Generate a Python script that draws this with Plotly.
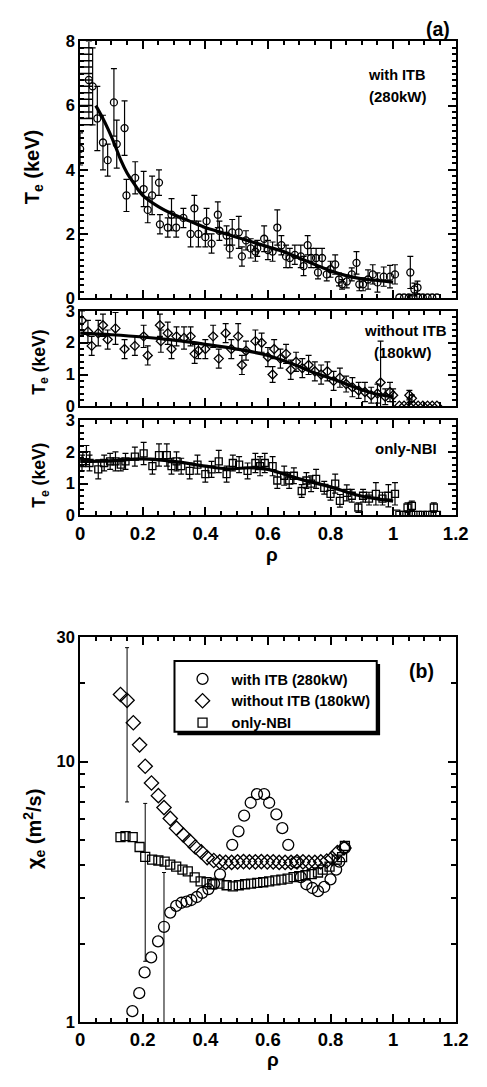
import plotly.graph_objects as go

# ---------------- (a) electron temperature profiles ----------------
# with ITB (280 kW)
itb_rho = [0.000, 0.028, 0.040, 0.055, 0.073, 0.088, 0.108, 0.117, 0.142, 0.148,
           0.176, 0.203, 0.216, 0.230, 0.252, 0.255, 0.280, 0.292, 0.307, 0.330,
           0.353, 0.365, 0.378, 0.400, 0.404, 0.420, 0.440, 0.445, 0.468, 0.478,
           0.486, 0.507, 0.517, 0.530, 0.545, 0.560, 0.566, 0.588, 0.600, 0.615,
           0.630, 0.643, 0.658, 0.670, 0.686, 0.705, 0.714, 0.727, 0.738, 0.754,
           0.760, 0.773, 0.788, 0.800, 0.815, 0.827, 0.837, 0.852, 0.868, 0.883,
           0.892, 0.904, 0.920, 0.935, 0.950, 0.970, 0.990, 1.006, 1.020, 1.035,
           1.050, 1.055, 1.065, 1.068, 1.078, 1.080, 1.095, 1.110, 1.125, 1.140]
itb_te = [4.65, 6.80, 6.60, 5.60, 4.85, 4.30, 6.10, 4.80, 5.30, 3.20,
          3.75, 3.40, 2.75, 3.20, 3.60, 2.30, 2.20, 2.60, 2.20, 2.50,
          2.00, 2.80, 2.00, 1.90, 2.40, 1.70, 2.60, 2.10, 1.95, 1.55,
          2.05, 2.05, 1.30, 1.80, 1.55, 1.45, 1.55, 1.85, 1.50, 1.45,
          2.20, 1.65, 1.30, 1.25, 1.35, 1.30, 1.00, 1.65, 1.25, 1.25,
          0.80, 1.25, 0.74, 0.90, 1.05, 0.58, 0.43, 0.52, 0.74, 1.10,
          0.43, 0.43, 0.58, 0.74, 0.49, 0.67, 0.67, 0.74, 0.02, 0.02,
          0.02, 0.80, 0.02, 0.27, 0.33, 0.02, 0.02, 0.02, 0.02, 0.02]
itb_err = [0.50, 1.20, 1.20, 1.00, 0.85, 0.50, 1.05, 0.75, 0.85, 0.50,
           0.50, 0.55, 0.40, 0.60, 0.40, 0.30, 0.30, 0.50, 0.30, 0.30,
           0.40, 0.40, 0.40, 0.30, 0.40, 0.30, 0.40, 0.30, 0.30, 0.30,
           0.40, 0.50, 0.30, 0.30, 0.30, 0.30, 0.25, 0.40, 0.30, 0.30,
           0.55, 0.30, 0.35, 0.30, 0.30, 0.35, 0.30, 0.30, 0.30, 0.30,
           0.20, 0.30, 0.20, 0.25, 0.30, 0.20, 0.15, 0.20, 0.20, 0.35,
           0.20, 0.20, 0.30, 0.30, 0.30, 0.30, 0.35, 0.30, 0.00, 0.00,
           0.00, 0.50, 0.00, 0.20, 0.20, 0.00, 0.00, 0.00, 0.00, 0.00]
# stacked error caps of the central channels
itb_core_rho = [0.015] * 13
itb_core_te = [5.4, 5.6, 5.8, 6.0, 6.2, 6.4, 6.6, 6.8, 7.0, 7.2, 7.4, 7.6, 7.8]
# fitted profile
itb_fit_rho = [0.05, 0.07, 0.09, 0.11, 0.13, 0.15, 0.17, 0.20, 0.25, 0.30, 0.35, 0.40,
               0.45, 0.50, 0.55, 0.60, 0.65, 0.70, 0.75, 0.80, 0.85, 0.90, 0.95, 1.00]
itb_fit_te = [6.00, 5.65, 5.25, 4.80, 4.30, 3.90, 3.60, 3.20, 2.85, 2.60, 2.40, 2.20,
              2.05, 1.90, 1.75, 1.60, 1.45, 1.25, 1.05, 0.85, 0.70, 0.60, 0.55, 0.50]

# without ITB (180 kW)
noitb_rho = [0.006, 0.025, 0.037, 0.058, 0.073, 0.088, 0.113, 0.142, 0.175, 0.203,
             0.216, 0.255, 0.258, 0.280, 0.292, 0.308, 0.332, 0.353, 0.366, 0.378,
             0.400, 0.425, 0.443, 0.465, 0.483, 0.505, 0.517, 0.530, 0.560, 0.580,
             0.600, 0.615, 0.620, 0.640, 0.658, 0.673, 0.690, 0.710, 0.730, 0.750,
             0.770, 0.790, 0.810, 0.830, 0.850, 0.870, 0.890, 0.910, 0.930, 0.950,
             0.960, 0.975, 0.990, 1.000, 1.020, 1.035, 1.050, 1.052, 1.060, 1.065,
             1.080, 1.095, 1.110, 1.125, 1.140]
noitb_te = [2.70, 2.35, 1.90, 2.30, 2.55, 2.10, 2.45, 1.80, 1.90, 2.20,
            1.60, 2.55, 2.05, 2.30, 1.80, 2.20, 2.15, 2.20, 1.65, 1.75,
            1.80, 2.20, 1.50, 2.30, 1.80, 2.20, 1.30, 1.75, 2.05, 2.00,
            1.55, 1.00, 1.80, 1.50, 1.65, 1.15, 1.40, 1.20, 1.30, 1.10,
            1.00, 1.10, 0.80, 0.90, 0.70, 0.60, 0.50, 0.45, 0.35, 0.40,
            0.75, 0.30, 0.45, 0.35, 0.02, 0.02, 0.02, 0.35, 0.25, 0.02,
            0.02, 0.02, 0.02, 0.02, 0.02]
noitb_err = [0.30, 0.35, 0.30, 0.40, 0.35, 0.30, 0.50, 0.30, 0.30, 0.35,
             0.30, 0.35, 0.35, 0.35, 0.30, 0.30, 0.35, 0.30, 0.30, 0.25,
             0.30, 0.35, 0.30, 0.30, 0.30, 0.40, 0.30, 0.30, 0.35, 0.30,
             0.30, 0.25, 0.30, 0.30, 0.30, 0.30, 0.30, 0.30, 0.30, 0.30,
             0.30, 0.30, 0.30, 0.30, 0.25, 0.30, 0.25, 0.30, 0.25, 0.30,
             1.30, 0.25, 0.30, 0.20, 0.00, 0.00, 0.00, 0.15, 0.10, 0.00,
             0.00, 0.00, 0.00, 0.00, 0.00]
noitb_fit_rho = [0.00, 0.10, 0.20, 0.30, 0.40, 0.50, 0.60, 0.70, 0.75, 0.80, 0.85, 0.90, 0.95, 1.00]
noitb_fit_te = [2.30, 2.25, 2.18, 2.08, 1.95, 1.80, 1.60, 1.25, 1.05, 0.88, 0.70, 0.52, 0.38, 0.30]

# only-NBI
nbi_rho = [0.006, 0.020, 0.030, 0.058, 0.077, 0.096, 0.113, 0.130, 0.145, 0.175,
           0.203, 0.231, 0.252, 0.277, 0.292, 0.308, 0.323, 0.350, 0.375, 0.400,
           0.420, 0.443, 0.468, 0.488, 0.508, 0.535, 0.560, 0.575, 0.590, 0.615,
           0.630, 0.652, 0.668, 0.683, 0.708, 0.723, 0.738, 0.754, 0.780, 0.800,
           0.815, 0.830, 0.852, 0.868, 0.889, 0.904, 0.923, 0.945, 0.966, 0.985,
           1.006, 1.010, 1.020, 1.035, 1.046, 1.050, 1.060, 1.065, 1.080, 1.095,
           1.110, 1.125, 1.130, 1.140]
nbi_te = [1.65, 1.90, 1.65, 1.45, 1.65, 1.70, 1.70, 1.60, 1.70, 1.85,
          1.95, 1.55, 1.90, 1.90, 1.55, 1.70, 1.55, 1.40, 1.60, 1.30,
          1.45, 1.70, 1.30, 1.65, 1.60, 1.40, 1.65, 1.55, 1.65, 1.55,
          1.10, 1.25, 1.10, 1.25, 0.77, 1.10, 1.00, 1.15, 0.87, 0.68,
          1.00, 0.46, 0.71, 0.62, 0.25, 0.62, 0.53, 0.68, 0.53, 0.62,
          0.68, 0.06, 0.02, 0.02, 0.25, 0.02, 0.30, 0.02, 0.02, 0.02,
          0.02, 0.02, 0.25, 0.02]
nbi_err = [0.25, 0.30, 0.25, 0.30, 0.25, 0.25, 0.30, 0.20, 0.25, 0.30,
           0.35, 0.25, 0.35, 0.35, 0.25, 0.30, 0.25, 0.25, 0.30, 0.25,
           0.25, 0.35, 0.25, 0.25, 0.25, 0.25, 0.30, 0.30, 0.30, 0.30,
           0.25, 0.30, 0.25, 0.25, 0.20, 0.25, 0.25, 0.30, 0.20, 0.20,
           0.30, 0.20, 0.25, 0.20, 0.15, 0.20, 0.20, 0.35, 0.20, 0.35,
           0.35, 0.00, 0.00, 0.00, 0.15, 0.00, 0.15, 0.00, 0.00, 0.00,
           0.00, 0.00, 0.15, 0.00]
nbi_fit_rho = [0.00, 0.10, 0.20, 0.30, 0.40, 0.47, 0.55, 0.60, 0.70, 0.80, 0.88, 0.95, 1.00]
nbi_fit_te = [1.70, 1.72, 1.78, 1.70, 1.55, 1.47, 1.50, 1.45, 1.15, 0.90, 0.65, 0.52, 0.45]

# ---------------- (b) electron heat diffusivity ----------------
chi_itb_rho = [0.167, 0.189, 0.206, 0.227, 0.249, 0.268, 0.288, 0.307, 0.324, 0.340,
               0.355, 0.373, 0.390, 0.410, 0.428, 0.447, 0.486, 0.506, 0.524, 0.545,
               0.565, 0.588, 0.604, 0.627, 0.646, 0.665, 0.688, 0.705, 0.723, 0.742,
               0.760, 0.780, 0.800, 0.818, 0.828, 0.846]
chi_itb = [1.10, 1.29, 1.55, 1.77, 2.04, 2.32, 2.63, 2.79, 2.87, 2.90,
           2.94, 3.02, 3.13, 3.24, 3.40, 3.69, 4.79, 5.40, 6.20, 6.95,
           7.50, 7.50, 6.95, 6.27, 5.55, 4.79, 4.10, 3.60, 3.38, 3.27,
           3.18, 3.30, 3.53, 3.85, 4.13, 4.66]
chi_itb_err = [0, 0, 0, 0, 0, 1.43, 0, 0, 0, 0,
               0, 0, 0, 0, 0, 0, 0, 0, 0, 0,
               0, 0, 0, 0, 0, 0, 0, 0, 0, 0,
               0, 0, 0, 0, 0, 0]

chi_noitb_rho = [0.129, 0.150, 0.170, 0.190, 0.208, 0.228, 0.250, 0.268, 0.288, 0.308,
                 0.330, 0.350, 0.368, 0.387, 0.406, 0.427, 0.446, 0.465, 0.484, 0.503,
                 0.522, 0.541, 0.560, 0.579, 0.598, 0.617, 0.636, 0.655, 0.674, 0.693,
                 0.712, 0.731, 0.750, 0.769, 0.788, 0.805, 0.822, 0.843]
chi_noitb = [18.1, 17.2, 14.1, 11.6, 9.60, 8.28, 7.40, 6.66, 6.05, 5.55,
             5.22, 4.95, 4.70, 4.50, 4.28, 4.17, 4.12, 4.10, 4.10, 4.12,
             4.13, 4.12, 4.12, 4.13, 4.12, 4.12, 4.10, 4.10, 4.10, 4.12,
             4.12, 4.10, 4.10, 4.12, 4.15, 4.25, 4.47, 4.66]
chi_noitb_err = [0, 10.2, 0, 0, 0, 0, 0, 0, 0, 0,
                 0, 0, 0, 0, 0, 0, 0, 0, 0, 0,
                 0, 0, 0, 0, 0, 0, 0, 0, 0, 0,
                 0, 0, 0, 0, 0, 0, 0, 0]

chi_nbi_rho = [0.129, 0.145, 0.168, 0.190, 0.208, 0.230, 0.250, 0.270, 0.288, 0.307,
               0.327, 0.344, 0.366, 0.385, 0.404, 0.422, 0.445, 0.468, 0.488, 0.507,
               0.527, 0.546, 0.566, 0.585, 0.604, 0.624, 0.643, 0.663, 0.682, 0.700,
               0.720, 0.740, 0.760, 0.775, 0.797, 0.820, 0.837, 0.846]
chi_nbi = [5.13, 5.17, 5.13, 4.70, 4.31, 4.20, 4.17, 4.13, 4.02, 3.95,
           3.85, 3.79, 3.59, 3.47, 3.44, 3.38, 3.40, 3.35, 3.32, 3.35,
           3.38, 3.40, 3.42, 3.44, 3.47, 3.50, 3.52, 3.55, 3.60, 3.63,
           3.66, 3.70, 3.75, 3.85, 3.95, 4.20, 4.30, 4.74]
chi_nbi_err = [0, 0, 0, 0, 2.6, 0, 0, 0, 0, 0,
               0, 0, 0, 0, 0, 0, 0, 0, 0, 0,
               0, 0, 0, 0, 0, 0, 0, 0, 0, 0,
               0, 0, 0, 0, 0, 0, 0, 0]

# ---------------- figure ----------------
W, H = 487, 1087
FONT = "Liberation Sans"
BLACK = "black"


def px_x(p):
    return p / W


def px_y(p):
    return 1 - p / H


XDOM = [px_x(78), px_x(468)]


def tfont(size):
    return dict(family=FONT, size=size, color=BLACK, weight="bold")


fig = go.Figure()


def add_points(x, y, e, xa, ya, symbol, size, name=None, cap=3, thick=1.2):
    """Open symbols, plus error bars only where an error is given."""
    keep = [i for i, v in enumerate(e) if v > 0]
    fig.add_trace(go.Scatter(
        x=[x[i] for i in keep], y=[y[i] for i in keep], mode="markers",
        xaxis=xa, yaxis=ya, showlegend=False, hoverinfo="skip",
        marker=dict(size=1, opacity=0),
        error_y=dict(type="data", array=[e[i] for i in keep], visible=True,
                     color=BLACK, thickness=thick, width=cap)))
    fig.add_trace(go.Scatter(
        x=x, y=y, mode="markers", xaxis=xa, yaxis=ya, name=name,
        showlegend=name is not None,
        marker=dict(symbol=symbol, size=size, color=BLACK,
                    line=dict(width=1.3, color=BLACK))))


def add_fit(x, y, xa, ya):
    fig.add_trace(go.Scatter(x=x, y=y, mode="lines", xaxis=xa, yaxis=ya,
                             line=dict(color=BLACK, width=3.2, shape="spline"),
                             showlegend=False))


# top panel
add_points(itb_rho, itb_te, itb_err, "x", "y", "circle-open", 7)
fig.add_trace(go.Scatter(x=itb_core_rho, y=itb_core_te, mode="markers", xaxis="x", yaxis="y",
                         marker=dict(symbol="line-ew", size=11,
                                     line=dict(width=1.5, color=BLACK)),
                         showlegend=False))
add_fit(itb_fit_rho, itb_fit_te, "x", "y")

# middle panel
add_points(noitb_rho, noitb_te, noitb_err, "x2", "y2", "diamond-open", 7)
add_fit(noitb_fit_rho, noitb_fit_te, "x2", "y2")

# bottom panel
add_points(nbi_rho, nbi_te, nbi_err, "x3", "y3", "square-open", 7)
add_fit(nbi_fit_rho, nbi_fit_te, "x3", "y3")

# panel (b)
add_points(chi_itb_rho, chi_itb, chi_itb_err, "x4", "y4", "circle-open", 11,
           name="with ITB (280kW)", cap=2, thick=1)
add_points(chi_noitb_rho, chi_noitb, chi_noitb_err, "x4", "y4", "diamond-open", 11,
           name="without ITB (180kW)", cap=2, thick=1)
add_points(chi_nbi_rho, chi_nbi, chi_nbi_err, "x4", "y4", "square-open", 9,
           name="only-NBI", cap=2, thick=1)


def xaxis(anchor, labels):
    return dict(domain=XDOM, anchor=anchor, range=[0, 1.2], tick0=0, dtick=0.2,
                showline=True, linecolor=BLACK, linewidth=2, mirror="ticks",
                ticks="inside", ticklen=8, tickwidth=2, tickcolor=BLACK,
                minor=dict(dtick=0.05, ticks="inside", ticklen=4, tickwidth=1.5, tickcolor=BLACK),
                showgrid=False, zeroline=False, showticklabels=labels,
                tickfont=tfont(18.5))


def yaxis(anchor, top, bottom, rng, dtick, minor):
    return dict(domain=[px_y(bottom), px_y(top)], anchor=anchor, range=rng, tick0=0, dtick=dtick,
                showline=True, linecolor=BLACK, linewidth=2, mirror="ticks",
                ticks="inside", ticklen=8, tickwidth=2, tickcolor=BLACK,
                minor=dict(dtick=minor, ticks="inside", ticklen=4, tickwidth=1.5, tickcolor=BLACK),
                showgrid=False, zeroline=False, tickfont=tfont(16.5))


def note(text, x, y, size, angle=0):
    return dict(text=text, x=px_x(x), y=px_y(y), xref="paper", yref="paper",
                xanchor="center", yanchor="middle", textangle=angle,
                showarrow=False, font=tfont(size))


annotations = [
    note("(a)", 450, 20, 19.5),
    note("(b)", 433, 673, 19.5),
    note("with ITB", 407, 67, 14.5),
    note("(280kW)", 408, 89, 15),
    note("without ITB", 416, 327, 15),
    note("(180kW)", 413, 349, 15),
    note("only-NBI", 416, 447, 15),
    note("T<sub>e</sub> (keV)", 29, 161, 20, angle=-90),
    note("T<sub>e</sub> (keV)", 36, 359, 17.5, angle=-90),
    note("T<sub>e</sub> (keV)", 37, 474, 17.5, angle=-90),
    note("ρ", 277, 555, 19),
    note("χ<sub>e</sub> (m<sup>2</sup>/s)", 30, 834, 20, angle=-90),
    note("ρ", 278, 1068, 19),
]

# legend frame with drop shadow
legend_frame = [
    dict(type="rect", xref="paper", yref="paper", layer="below",
         x0=px_x(179), x1=px_x(389.5), y0=px_y(738.5), y1=px_y(666),
         fillcolor=BLACK, line=dict(width=0)),
    dict(type="rect", xref="paper", yref="paper", layer="below",
         x0=px_x(176), x1=px_x(386), y0=px_y(735), y1=px_y(663),
         fillcolor="white", line=dict(width=2, color=BLACK)),
]

fig.update_layout(
    width=W, height=H, autosize=False,
    margin=dict(l=0, r=0, t=0, b=0),
    paper_bgcolor="white", plot_bgcolor="white",
    font=dict(family=FONT, color=BLACK),
    xaxis=xaxis("y", False),
    yaxis=yaxis("x", 33, 294, [0, 8], 2, 0.2),
    xaxis2=xaxis("y2", False),
    yaxis2=yaxis("x2", 307, 404, [0, 3], 1, 0.2),
    xaxis3=xaxis("y3", True),
    yaxis3=yaxis("x3", 418, 515, [0, 3], 1, 0.2),
    xaxis4=xaxis("y4", True),
    yaxis4=dict(domain=[px_y(1030), px_y(639)], anchor="x4", type="log",
                range=[0, 1.4771], tickvals=[1, 10, 30], ticktext=["1", "10", "30"],
                showline=True, linecolor=BLACK, linewidth=2, mirror="ticks",
                ticks="inside", ticklen=8, tickwidth=2, tickcolor=BLACK,
                minor=dict(tickvals=[2, 3, 4, 5, 6, 7, 8, 9, 20], ticks="inside",
                           ticklen=5, tickwidth=1.5, tickcolor=BLACK),
                showgrid=False, zeroline=False, tickfont=tfont(16.5)),
    legend=dict(x=px_x(175), y=px_y(665), xanchor="left", yanchor="top",
                bgcolor="rgba(0,0,0,0)", borderwidth=0,
                font=tfont(14.5), tracegroupgap=0, itemwidth=48),
    annotations=annotations,
    shapes=legend_frame,
)

fig.write_html("out.html")
